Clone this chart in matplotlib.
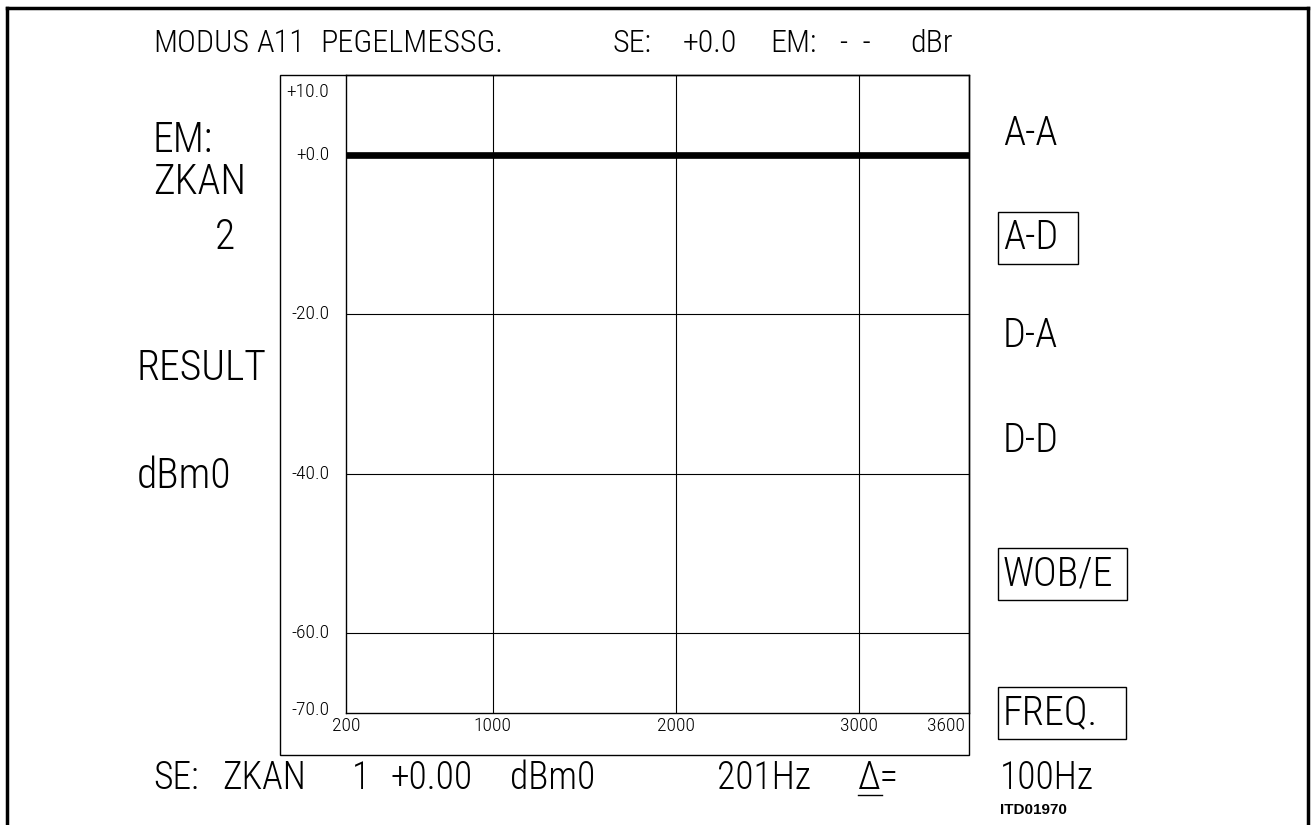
import matplotlib
matplotlib.use("Agg")
import matplotlib.pyplot as plt
from matplotlib import font_manager
from matplotlib.patches import Rectangle
from matplotlib.lines import Line2D

# level measurement screen: level vs frequency
freq_hz = [200, 3600]
level_dbm0 = [0.0, 0.0]

x_ticks = [200, 1000, 2000, 3000, 3600]
x_ticklabels = ["200", "1000", "2000", "3000", "3600"]
y_ticks = [10, 0, -20, -40, -60, -70]
y_ticklabels = ["+10.0", "+0.0", "-20.0", "-40.0", "-60.0", "-70.0"]

title_parts = [("MODUS", 153), ("A11", 256), ("PEGELMESSG.", 320), ("SE:", 612),
               ("+0.0", 683), ("EM:", 770), ("-  -", 840), ("dBr", 910)]
left_labels = [("EM:", 153, 141), ("ZKAN", 153, 183), ("2", 215, 237),
               ("RESULT", 137, 368), ("dBm0", 137, 476)]
right_labels = [("A-A", 134), ("A-D", 238), ("D-A", 336), ("D-D", 441),
                ("WOB/E", 574), ("FREQ.", 713)]
boxed = ["A-D", "WOB/E", "FREQ."]
bottom_parts = [("SE:", 153), ("ZKAN", 222), ("1", 352), ("+0.00", 390),
                ("dBm0", 510), ("201Hz", 717), ("Δ=", 858), ("100Hz", 1000)]

names = {f.name for f in font_manager.fontManager.ttflist}
narrow = "DejaVu Sans"
for cand in ["Liberation Sans Narrow", "Roboto Condensed", "Open Sans Condensed", "Noto Sans"]:
    if cand in names:
        narrow = cand
        break

W, H = 1311, 825
fig = plt.figure(figsize=(W / 100, H / 100), dpi=100)


def fx(x):
    return x / W


def fy(y):
    return 1 - y / H


ax = fig.add_axes([fx(346), fy(713), fx(969) - fx(346), fy(75) - fy(713)])
ax.plot(freq_hz, level_dbm0, color="black", lw=4.8, solid_capstyle="butt")
ax.set_xlim(200, 3600)
ax.set_ylim(-70, 10)
ax.set_xticks(x_ticks)
ax.set_yticks(y_ticks)
ax.set_xticklabels([])
ax.set_yticklabels([])
ax.tick_params(length=0)
for v in [1000, 2000, 3000]:
    ax.axvline(v, color="black", lw=0.8)
for v in [-20, -40, -60]:
    ax.axhline(v, color="black", lw=0.8)
for s in ax.spines.values():
    s.set_linewidth(1.0)

tick_font = dict(fontsize=14, family=narrow, fontweight="light")

# y tick labels sit inside the frame, left of the grid
for v, lab in zip(y_ticks, y_ticklabels):
    dy = 0
    if v == 10:
        dy = -12
    elif v == -70:
        dy = 2
    ax.annotate(lab, (0, v), xycoords=ax.get_yaxis_transform(), xytext=(-12, dy),
                textcoords="offset points", ha="right", va="center", **tick_font)
for v, lab in zip(x_ticks, x_ticklabels):
    ha = "right" if v == 3600 else "center"
    off = -3 if v == 3600 else 0
    ax.annotate(lab, (v, 0), xycoords=ax.get_xaxis_transform(), xytext=(off, -3),
                textcoords="offset points", ha=ha, va="top", **tick_font)

# outer frame around plot and tick labels
fig.add_artist(Rectangle((fx(280), fy(755)), fx(969) - fx(280), fy(75) - fy(755),
                         fill=False, lw=1.0, ec="black", transform=fig.transFigure))

base = dict(family=narrow, fontweight="light", va="center", ha="left", color="black")

for txt, x in title_parts:
    fig.text(fx(x), fy(44), txt, fontsize=23, **base)
for txt, x, y in left_labels:
    fig.text(fx(x), fy(y), txt, fontsize=30, **base)
for txt, y in right_labels:
    fig.text(fx(1003), fy(y), txt, fontsize=29, **base)
box_w = {"A-D": 80, "WOB/E": 129, "FREQ.": 128}
for txt, y in right_labels:
    if txt in boxed:
        fig.add_artist(Rectangle((fx(998), fy(y + 26)), fx(box_w[txt]), fy(0) - fy(52),
                                 fill=False, lw=1.0, ec="black", transform=fig.transFigure))
for txt, x in bottom_parts:
    fig.text(fx(x), fy(778), txt, fontsize=27, **base)
# underline under the delta sign
fig.add_artist(Line2D([fx(858), fx(882)], [fy(795), fy(795)], lw=1.0, color="black",
                      transform=fig.transFigure))

fig.text(fx(1000), fy(810), "ITD01970", fontsize=11, fontweight="bold", family="Liberation Sans",
         va="center", ha="left")

# page border
fig.add_artist(Line2D([fx(7), fx(7)], [0, fy(8)], lw=2.5, color="black", transform=fig.transFigure))
fig.add_artist(Line2D([fx(7), fx(1308)], [fy(8), fy(8)], lw=2.5, color="black", transform=fig.transFigure))
fig.add_artist(Line2D([fx(1308), fx(1308)], [fy(8), 0], lw=2.5, color="black", transform=fig.transFigure))

fig.savefig("out.png", dpi=100)
